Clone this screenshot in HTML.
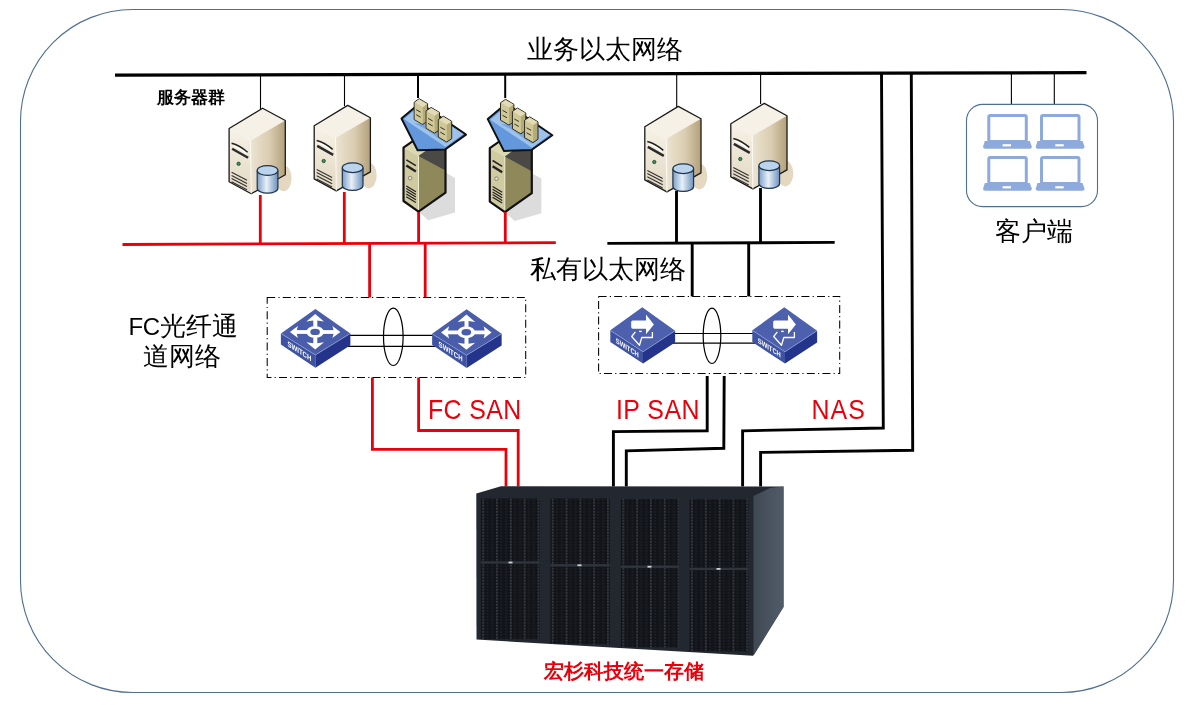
<!DOCTYPE html>
<html><head><meta charset="utf-8">
<style>
html,body{margin:0;padding:0;background:#fff;}
body{width:1192px;height:705px;overflow:hidden;position:relative;font-family:"Liberation Sans",sans-serif;}
svg{position:absolute;left:0;top:0;will-change:transform;}
.t{font-family:"Liberation Sans",sans-serif;fill:#000;}
</style></head><body>
<svg width="1192" height="705" viewBox="0 0 1192 705">
<defs>
  <linearGradient id="gFront" x1="0" y1="0" x2="0" y2="1">
    <stop offset="0" stop-color="#f6f2e6"/><stop offset="1" stop-color="#e2d8c2"/>
  </linearGradient>
  <linearGradient id="gSide" x1="0" y1="0" x2="1" y2="0">
    <stop offset="0" stop-color="#ece4d2"/><stop offset="0.55" stop-color="#d9ccb0"/><stop offset="1" stop-color="#b3a07a"/>
  </linearGradient>
  <linearGradient id="gCyl" x1="0" y1="0" x2="1" y2="0">
    <stop offset="0" stop-color="#7d9fc8"/><stop offset="0.45" stop-color="#e8f0f8"/><stop offset="1" stop-color="#6d91bd"/>
  </linearGradient>
  <g id="srv">
    <ellipse cx="21" cy="70" rx="8" ry="13" fill="#e4d9c0"/>
    <polygon points="0,0 22.7,12.3 -12.1,32.4 -33.5,20.3" fill="#f5f1e6"/>
    <polygon points="-33.5,20.3 -12.1,32.4 -11.4,85.5 -33.5,73.5" fill="url(#gFront)"/>
    <polygon points="-12.1,32.4 22.7,12.3 22.7,66.5 -11.4,85.5" fill="url(#gSide)"/>
    <polygon points="0,0 22.7,12.3 22.7,66.5 -11.4,85.5 -33.5,73.5 -33.5,20.3" fill="none" stroke="#1a1a1a" stroke-width="1.3" stroke-linejoin="round"/>
    <line x1="-12.1" y1="32.4" x2="-11.4" y2="85.5" stroke="#fff" stroke-width="0.9" opacity="0.8"/>
    <path d="M-31,35 Q-23,37 -15,44" fill="none" stroke="#222" stroke-width="1.5"/>
    <path d="M-30.5,40.5 L-14.5,49.5" stroke="#2a2a2a" stroke-width="2.4"/>
    <path d="M-29.5,37.8 Q-22,40 -16.5,45.5" fill="none" stroke="#fff" stroke-width="1.3"/>
    <circle cx="-24" cy="55.6" r="1.7" fill="#3d8f5e" stroke="#1a3a2a" stroke-width="0.7"/>
    <path d="M-31,64 L-15.6,72 M-31,67.2 L-15.6,75.2 M-31,70.4 L-15.6,78.4 M-31,73.6 L-15.6,81.6" stroke="#333" stroke-width="1.1"/>
    <path d="M-5.4,62.3 V80 A10.35,5 0 0 0 15.3,80 V62.3" fill="url(#gCyl)" stroke="#1d3550" stroke-width="1.2"/>
    <ellipse cx="4.95" cy="62.3" rx="10.35" ry="4.9" fill="#bcd3ec" stroke="#1d3550" stroke-width="1.2"/>
  </g>
  <g id="mt">
      <polygon points="0,3.5 5,0 13.4,5 13.4,22.5 8.5,25.8 0,20.8" fill="#b4ab78" stroke="#2a2a20" stroke-width="1"/>
      <polygon points="0.6,3.8 8.5,8.5 8.5,25.2 0.6,20.5" fill="#d0c896"/>
      <polygon points="0.6,3.8 5,0.6 13,5.2 8.5,8.5" fill="#e2dcb8"/>
      <path d="M2,11 L6.5,13.5 M2,16 L6.5,18.5" stroke="#333" stroke-width="1"/>
    </g>
  <g id="olive">
    <polygon points="27,-39 36.5,-33.6 36.5,1 9.8,8.7 0,0" fill="#dcdcdc"/>
    <polygon points="-15,-64 12,-83 27,-74.6 0,-55.6" fill="#dcd8b0"/>
    <polygon points="-15,-64 0,-55.6 0,0 -15,-10.6" fill="#cfcaa0"/>
    <polygon points="0,-55.6 27,-74.6 27,-19 0,0" fill="#8e885b"/>
    <polygon points="0,-55.6 27,-74.6 27,-41" fill="#4b4946"/>
    <line x1="0" y1="-55.6" x2="0" y2="0" stroke="#f0ecd0" stroke-width="1"/>
    <polygon points="-15,-64 12,-83 27,-74.6 27,-19 0,0 -15,-10.6" fill="none" stroke="#111" stroke-width="2.2" stroke-linejoin="round"/>
    <path d="M-12.2,-51.7 L-2.6,-45.9" stroke="#222" stroke-width="1.5"/>
    <path d="M-12.2,-46 L-2.6,-40" stroke="#222" stroke-width="2.4"/>
    <circle cx="-8.4" cy="-33.5" r="1.8" fill="#e8e4c8" stroke="#555" stroke-width="0.6"/>
    <path d="M-12.2,-25.7 L-2.6,-19.9 M-12.2,-23 L-2.6,-17.2 M-12.2,-20.3 L-2.6,-14.5 M-12.2,-17.6 L-2.6,-11.8 M-12.2,-14.9 L-2.6,-9.1" stroke="#222" stroke-width="1.2"/>
    <polygon points="-17,-93.1 1.5,-108.6 47.5,-77 26.7,-62.2 -0.9,-61.3" fill="#6498dc" stroke="#111" stroke-width="2" stroke-linejoin="round"/>
    <polygon points="-14.5,-92.5 1.5,-106 45,-77.5 27,-64.5 22,-68 -8,-88" fill="#9dc2ec"/>
    <polygon points="-4,-88 8,-82 20,-73 28,-68 30,-72 18,-80 6,-88" fill="#6e9fdc" opacity="0.8"/>
    
    <use href="#mt" x="-4.3" y="-112.9"/>
    <use href="#mt" x="7.6" y="-104.2"/>
    <use href="#mt" x="19.8" y="-95.4"/>
  </g>
  <g id="swfc">
    <polygon points="-34.5,24.5 0,46 0,58.8 -34.5,35.5" fill="#3d52a1"/>
    <polygon points="0,46 35,24.5 35,36.3 0,58.8" fill="#24348a"/>
    <polygon points="0,0 35,24.5 0,46 -34.5,24.5" fill="#4a5dab"/>
    <path d="M-34.5,24.5 L0,46 L35,24.5" fill="none" stroke="#9aa6d8" stroke-width="0.6"/>
    <g fill="#fff">
      <ellipse cx="-0.3" cy="23" rx="8.8" ry="6"/>
      <rect x="-2.1" y="10" width="4" height="7.5"/>
      <polygon points="-0.2,5.2 -9,12.6 -2.2,11.6 -0.2,13 1.8,11.6 8.6,12.6"/>
      <rect x="-2.1" y="28.5" width="4" height="7.5"/>
      <polygon points="-0.2,40.5 -9,33.4 -2.2,34.4 -0.2,33 1.8,34.4 8.6,33.4"/>
      <rect x="-19" y="21.2" width="11" height="3.8"/>
      <polygon points="-25.5,23.1 -17.5,17 -18.6,21.2 -17.8,23.1 -18.6,25 -17.5,29.2"/>
      <rect x="7.5" y="21.2" width="11" height="3.8"/>
      <polygon points="25,23.1 17,17 18.1,21.2 17.3,23.1 18.1,25 17,29.2"/>
    </g>
    <ellipse cx="-0.3" cy="23" rx="4.8" ry="3.2" fill="#4a5dab"/>
    <text transform="translate(-28,37) skewY(33)" font-family="Liberation Sans" font-weight="bold" font-size="7.6" fill="#fff" textLength="24" lengthAdjust="spacingAndGlyphs">SWITCH</text>
  </g>
  <g id="swip">
    <polygon points="-32,23 0.7,44.5 0.7,56.2 -32,34.7" fill="#3e53a2"/>
    <polygon points="0.7,44.5 32.8,23.4 32.8,35.1 0.7,56.2" fill="#24348a"/>
    <polygon points="0,0 32.8,23.4 0.7,44.5 -32,23" fill="#4d60ad"/>
    <path d="M-32,23 L0.7,44.5 L32.8,23.4" fill="none" stroke="#9aa6d8" stroke-width="0.6"/>
    <path d="M-9.5,13.1 H3.7 V7.1 L11.6,17.3 L3.7,26.9 V21.4 H-9.5 Q-11.1,21.4 -11.1,19.8 V14.7 Q-11.1,13.1 -9.5,13.1 Z" fill="#fff"/>
    <path d="M-6.9,24.6 L-10.6,29.2 L-2.8,38 L-0.5,30.2 H10.1 V24.6" fill="none" stroke="#fff" stroke-width="1.3" stroke-linejoin="round"/>
    <rect x="-3.2" y="23.4" width="2.6" height="1.4" fill="#fff"/>
    <text transform="translate(-26.5,35.5) skewY(33)" font-family="Liberation Sans" font-weight="bold" font-size="7.4" fill="#fff" textLength="23" lengthAdjust="spacingAndGlyphs">SWITCH</text>
  </g>
  <g id="laptop">
    <rect x="1.5" y="1.5" width="37.5" height="26" rx="1.5" fill="none" stroke="#8eaadc" stroke-width="3"/>
    <path d="M-2.5,27 H42.5 L44.5,32.5 Q44.8,34.7 42.5,34.7 H-2 Q-4.5,34.7 -4.2,32.5 Z" fill="#8eaadc"/>
    <rect x="15.3" y="30.2" width="8.4" height="2.2" fill="#fff"/>
  </g>
  <pattern id="perf0" x="482.3" y="498.5" width="13.8" height="3" patternUnits="userSpaceOnUse">
    <rect width="13.8" height="3" fill="#121419"/>
    <rect x="0" y="0.6" width="1.8" height="1.3" fill="#4a4f56"/>
    <rect x="4" y="1" width="2" height="0.9" fill="#24282f"/>
    <rect x="9" y="0.8" width="2.2" height="0.9" fill="#23272e"/>
  </pattern>
  <pattern id="perf1" x="551.8" y="498.5" width="13.8" height="3" patternUnits="userSpaceOnUse">
    <rect width="13.8" height="3" fill="#121419"/>
    <rect x="0" y="0.6" width="1.8" height="1.3" fill="#4a4f56"/>
    <rect x="4" y="1" width="2" height="0.9" fill="#24282f"/>
    <rect x="9" y="0.8" width="2.2" height="0.9" fill="#23272e"/>
  </pattern>
  <pattern id="perf2" x="622.4" y="498.5" width="13.8" height="3" patternUnits="userSpaceOnUse">
    <rect width="13.8" height="3" fill="#121419"/>
    <rect x="0" y="0.6" width="1.8" height="1.3" fill="#4a4f56"/>
    <rect x="4" y="1" width="2" height="0.9" fill="#24282f"/>
    <rect x="9" y="0.8" width="2.2" height="0.9" fill="#23272e"/>
  </pattern>
  <pattern id="perf3" x="691.1" y="498.5" width="13.8" height="3" patternUnits="userSpaceOnUse">
    <rect width="13.8" height="3" fill="#121419"/>
    <rect x="0" y="0.6" width="1.8" height="1.3" fill="#4a4f56"/>
    <rect x="4" y="1" width="2" height="0.9" fill="#24282f"/>
    <rect x="9" y="0.8" width="2.2" height="0.9" fill="#23272e"/>
  </pattern>
  
  <linearGradient id="gStSide" x1="0" y1="0" x2="1" y2="0">
    <stop offset="0" stop-color="#3f4853"/><stop offset="1" stop-color="#525c69"/>
  </linearGradient>
</defs>

<!-- frame -->
<rect x="20.5" y="9.5" width="1153" height="683" rx="112" ry="112" fill="none" stroke="#4f6f90" stroke-width="1.1"/>

<!-- top bus -->
<line x1="115" y1="75.2" x2="1086.5" y2="72.6" stroke="#000" stroke-width="3.3"/>

<!-- thin drops -->
<g stroke="#000" stroke-width="1.1">
  <line x1="260.5" y1="75" x2="260.5" y2="109"/>
  <line x1="344.5" y1="75" x2="344.5" y2="106"/>
  <line x1="676.7" y1="74" x2="676.7" y2="107"/>
  <line x1="760.6" y1="74" x2="760.6" y2="104"/>
  <line x1="1011.4" y1="73" x2="1011.4" y2="104.5"/>
  <line x1="1054.3" y1="73" x2="1054.3" y2="104.5"/>
</g>
<g stroke="#000" stroke-width="2">
  <line x1="418" y1="74" x2="418" y2="98"/>
  <line x1="505.2" y1="74" x2="505.2" y2="98"/>
</g>

<!-- servers -->
<use href="#srv" x="262.6" y="108.2"/>
<use href="#srv" x="347.7" y="105.4"/>
<use href="#srv" x="678.3" y="106.4"/>
<use href="#srv" x="764.3" y="103.4"/>


<!-- olive servers -->
<use href="#olive" x="418.5" y="211.6"/>
<use href="#olive" x="504.8" y="212.2"/>

<!-- red bus + drops -->
<g stroke="#e8000b" stroke-width="2.8" fill="none">
  <line x1="122.5" y1="244.5" x2="555.8" y2="242.6"/>
  <line x1="260.3" y1="195" x2="260.3" y2="244"/>
  <line x1="344.3" y1="192" x2="344.3" y2="244"/>
  <line x1="418.6" y1="212" x2="418.6" y2="243"/>
  <line x1="505.3" y1="212" x2="505.3" y2="243"/>
  <line x1="369.6" y1="243" x2="369.6" y2="297.5"/>
  <line x1="425.2" y1="243" x2="425.2" y2="297.5"/>
  <path d="M372.4,377.5 V449.3 H506 V486.5"/>
  <path d="M418.6,377.5 V430.5 H518.2 V486.5"/>
</g>
<!-- private bus -->
<g stroke="#000" stroke-width="2.9" fill="none">
  <line x1="607.4" y1="243.4" x2="834.7" y2="242.4"/>
  <line x1="676.5" y1="191" x2="676.5" y2="243"/>
  <line x1="760.5" y1="188" x2="760.5" y2="243"/>
  <line x1="692.2" y1="243" x2="692.2" y2="296.4"/>
  <line x1="748.7" y1="243" x2="748.7" y2="296.4"/>
  <path d="M707.2,376 V430.8 L613.4,431.6 V486.5"/>
  <path d="M724.2,376 L723.8,448.3 L626.3,450.8 V486.5"/>
  <path d="M881.5,73 L883.3,428 L742.6,430.8 V486.5"/>
  <path d="M911.3,73 L912.7,450.2 L760.6,452.4 V486.5"/>
</g>

<!-- boxes -->
<rect x="267.2" y="297.5" width="258.5" height="80" fill="none" stroke="#000" stroke-width="1.05" stroke-dasharray="8 3.2 1.2 3.2"/>
<rect x="598.6" y="296.4" width="241.1" height="77.2" fill="none" stroke="#000" stroke-width="1.05" stroke-dasharray="8 3.2 1.2 3.2"/>

<!-- switches -->
<g stroke="#000" stroke-width="1.2" fill="none">
  <line x1="348" y1="335.4" x2="434" y2="335.4"/>
  <line x1="340" y1="346.3" x2="440" y2="346.3"/>
  <ellipse cx="393.3" cy="336.8" rx="9.8" ry="28.7"/>
  <line x1="672" y1="333.5" x2="754" y2="333.5"/>
  <line x1="668" y1="343.2" x2="760" y2="343.2"/>
  <ellipse cx="712" cy="335.8" rx="8.8" ry="27.7"/>
</g>
<use href="#swfc" x="315.4" y="308.9"/>
<use href="#swfc" x="466.6" y="309.3"/>
<use href="#swip" x="642.3" y="307.3"/>
<use href="#swip" x="784.3" y="307.3"/>

<!-- storage -->
<polygon points="476.3,493.4 501,486.3 783.5,486.5 783.5,607 753,655.7 476.5,639.6" fill="#232830"/>
<polygon points="753.5,496 770,488 783.5,486.5 783.5,607 753.5,655.7" fill="url(#gStSide)"/>
<polygon points="480.8,498.4 539.8,498.4 539.8,639.3 480.8,639" fill="url(#perf0)"/>
<polygon points="550.3,498.6 609.8,498.6 609.8,644.3 550.3,643.8" fill="url(#perf1)"/>
<polygon points="620.9,499 679,499 679,647.5 620.9,647" fill="url(#perf2)"/>
<polygon points="689.6,499.2 748.5,499.2 748.5,651.4 689.6,651" fill="url(#perf3)"/>
<g fill="#30353d">
  <rect x="481" y="561.3" width="58.8" height="2.4"/>
  <rect x="550.3" y="564.1" width="59.5" height="2.4"/>
  <rect x="620.9" y="565.5" width="58.1" height="2.4"/>
  <rect x="689.6" y="567.7" width="58.9" height="2.4"/>
</g>
<g fill="#cfd2d6">
  <rect x="508.5" y="561.6" width="4" height="1.8"/>
  <rect x="577.5" y="564.4" width="4" height="1.8"/>
  <rect x="647.5" y="565.8" width="4" height="1.8"/>
  <rect x="716.5" y="568" width="4" height="1.8"/>
</g>

<!-- client box -->
<rect x="966.5" y="104.4" width="131" height="102.2" rx="16" fill="none" stroke="#4f6f90" stroke-width="1.1"/>
<use href="#laptop" x="987.3" y="114"/>
<use href="#laptop" x="1040" y="114"/>
<use href="#laptop" x="987.3" y="156"/>
<use href="#laptop" x="1040" y="156"/>

<!-- texts -->
<text class="t" x="527" y="58" font-size="25.5">业务以太网络</text>
<text class="t" x="157" y="103.2" font-size="16.5" font-weight="bold">服务器群</text>
<text class="t" x="530" y="278" font-size="25.5">私有以太网络</text>
<text class="t" x="128.5" y="335" font-size="25.5"><tspan font-size="24" letter-spacing="-0.5">FC</tspan>光纤通</text>
<text class="t" x="143" y="365" font-size="25.5">道网络</text>
<text class="t" x="995" y="240" font-size="25.5">客户端</text>
<text class="t" x="428" y="418.9" font-size="28" style="fill:#e8000b" transform="translate(428,0) scale(0.89,1) translate(-428,0)" letter-spacing="0.4">FC SAN</text>
<text class="t" x="616" y="418.9" font-size="28" style="fill:#e8000b" transform="translate(616,0) scale(0.89,1) translate(-616,0)" letter-spacing="0.5">IP SAN</text>
<text class="t" x="811.5" y="418.9" font-size="28" style="fill:#e8000b" transform="translate(811.5,0) scale(0.89,1) translate(-811.5,0)" letter-spacing="1.2">NAS</text>
<text x="544" y="678" font-family="'Liberation Serif', serif" font-size="19.5" font-weight="bold" fill="#e8000b">宏杉科技统一存储</text>
</svg>
</body></html>
